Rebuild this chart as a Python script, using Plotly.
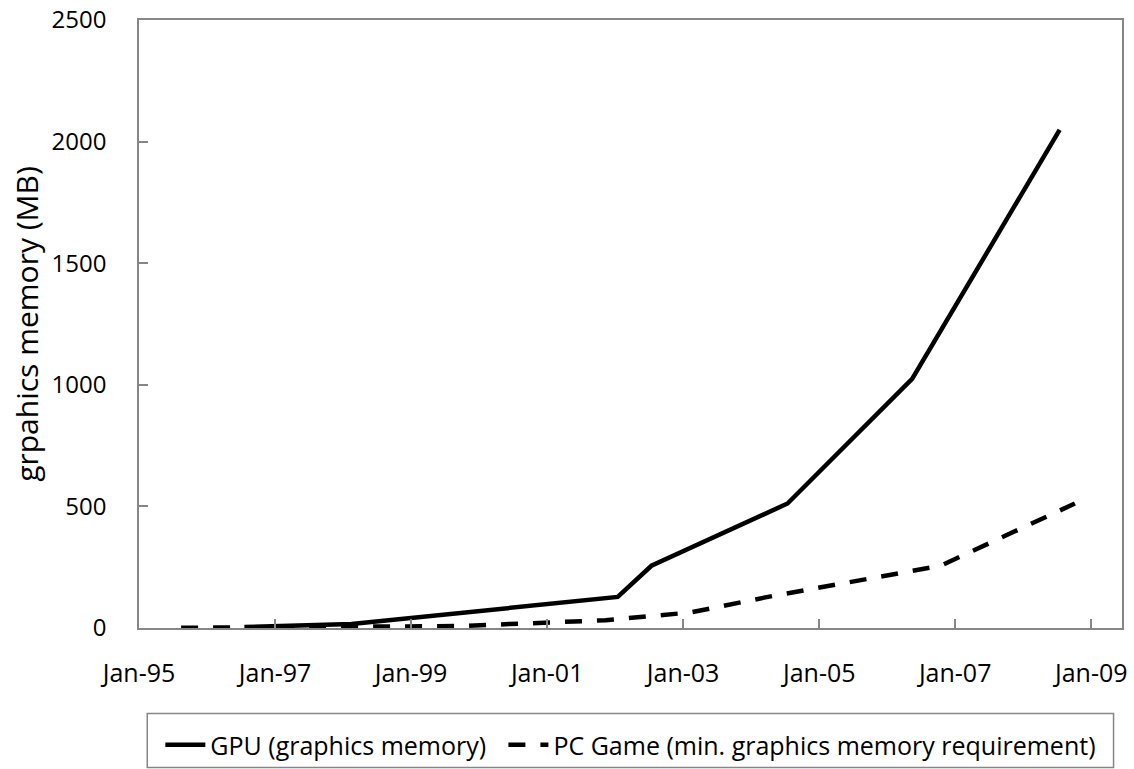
import plotly.graph_objects as go

# GPU on-board memory (MB) by release date
gpu_dates = ["1996-07-20", "1998-02-15", "2002-01-15", "2002-07-15",
             "2004-07-15", "2006-05-15", "2008-07-15"]
gpu_mb = [4, 16, 128, 256, 512, 1024, 2048]

# Minimum graphics memory required by PC games (MB)
game_dates = ["1995-08-15", "1998-10-01", "1999-10-01", "2000-06-10",
              "2001-11-10", "2003-02-10", "2004-04-01", "2006-10-15",
              "2008-10-05"]
game_mb = [1, 4, 8, 16, 32, 64, 128, 256, 512]

x_range = ["1995-01-01", "2009-06-15"]
y_range = [0, 2500]

FONT = "Open Sans"
AXIS_GREY = "#868686"

fig = go.Figure()
fig.add_trace(go.Scatter(
    x=gpu_dates, y=gpu_mb, mode="lines",
    name="GPU (graphics memory)",
    line=dict(color="black", width=4.5),
    legend="legend",
))
fig.add_trace(go.Scatter(
    x=game_dates, y=game_mb, mode="lines",
    name="PC Game (min. graphics memory requirement)",
    line=dict(color="black", width=4.5, dash="17px,15px"),
    legend="legend2",
))

# Both legend entries sit on one row below the axis, positioned against the
# page so they do not push the plot margins.
legend_common = dict(
    orientation="h",
    yref="container", yanchor="top", y=0.0611,
    font=dict(size=25, family=FONT, color="black"),
    bgcolor="rgba(0,0,0,0)", borderwidth=0,
    itemwidth=40,
    itemclick=False, itemdoubleclick=False,
)

fig.update_layout(
    width=1134, height=769,
    margin=dict(l=139, r=12, t=20, b=141, autoexpand=False),
    plot_bgcolor="white", paper_bgcolor="white",
    font=dict(family=FONT, color="black"),
    showlegend=True,
    legend=dict(x=0.0217, xanchor="left", **legend_common),
    legend2=dict(x=0.3707, xanchor="left", **legend_common),
    shapes=[dict(
        type="rect", xref="paper", yref="paper",
        x0=0.0084, x1=0.9914, y0=-0.2296, y1=-0.1407,
        line=dict(color=AXIS_GREY, width=1.5),
        fillcolor="rgba(0,0,0,0)", layer="below",
    )],
)

fig.update_xaxes(
    type="date", range=x_range,
    tick0="1995-01-01", dtick="M24", tickformat="%b-%y",
    ticks="inside", ticklen=9, tickcolor=AXIS_GREY, tickwidth=1.5,
    showline=True, linecolor=AXIS_GREY, linewidth=1.5, mirror=True,
    showgrid=False, zeroline=False,
    tickfont=dict(size=25, family=FONT, color="black"),
    ticklabelstandoff=22,
)
fig.update_yaxes(
    range=y_range, dtick=500, tick0=0,
    ticks="inside", ticklen=9, tickcolor=AXIS_GREY, tickwidth=1.5,
    showline=True, linecolor=AXIS_GREY, linewidth=1.5, mirror=True,
    showgrid=False, zeroline=False,
    tickfont=dict(size=24, family=FONT, color="black"),
    ticklabelstandoff=26,
    title=dict(text="grpahics memory (MB)", standoff=4,
               font=dict(size=30, family=FONT, color="black")),
    automargin=False,
)

fig.write_html("out.html")
